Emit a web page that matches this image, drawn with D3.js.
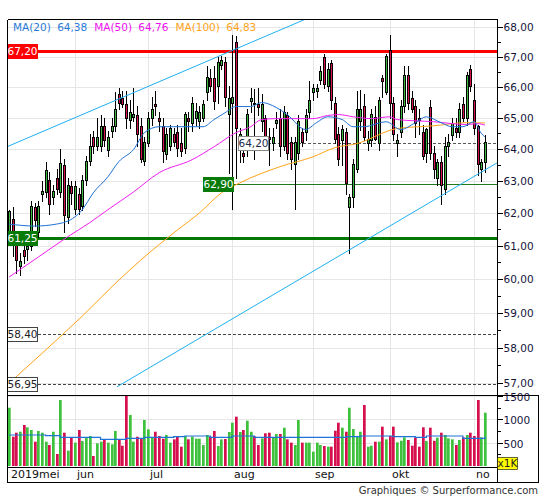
<!DOCTYPE html>
<html><head><meta charset="utf-8">
<script src="https://cdn.jsdelivr.net/npm/d3@7"></script>
<style>body{margin:0;background:#fff;} svg{display:block;font-family:"DejaVu Sans",Verdana,sans-serif;}</style>
</head><body><svg id="c" width="545" height="500"></svg>
<script>
// ---------- DATA ----------
const startDate = "2019-05-08";
const opens = [61.34,61.83,61.03,60.38,60.88,60.90,60.98,62.18,61.43,62.58,
62.64,63.03,62.48,63.08,62.64,63.48,61.88,62.83,62.13,62.58,
62.23,63.03,63.63,64.38,64.08,64.08,64.73,63.98,64.58,64.73,
65.78,65.63,65.43,64.93,65.03,65.08,64.73,63.63,64.18,64.98,
65.43,64.98,64.73,63.83,64.08,64.48,64.53,64.18,64.03,64.98,
64.83,64.98,64.88,64.98,65.83,66.28,66.28,66.03,66.73,66.83,
65.13,65.48,67.48,64.18,63.88,64.28,65.53,65.46,65.44,64.88,
64.98,64.38,64.18,64.83,64.98,64.08,65.08,64.23,63.53,63.88,
64.53,64.53,65.18,65.83,65.88,66.23,66.98,66.03,66.78,65.48,
64.48,64.28,64.53,62.18,62.48,63.38,64.88,65.38,64.18,64.28,
65.03,64.18,66.28,65.83,67.23,65.48,64.18,64.53,65.38,66.38,
65.63,65.38,64.98,64.53,63.88,65.33,63.88,63.08,63.58,62.73,
64.08,64.43,64.68,64.53,65.43,64.98,66.58,65.58,64.73,63.38,
63.58];
const highs = [62.08,62.18,61.30,60.78,61.08,61.38,62.38,62.30,62.38,62.98,
63.60,63.28,62.88,63.38,64.00,63.68,63.08,62.98,62.98,62.78,
63.18,63.78,64.48,64.58,64.98,65.08,64.98,64.58,64.98,65.83,
65.98,65.88,65.88,65.58,65.98,65.38,64.98,64.38,65.18,65.68,
65.88,65.18,64.98,64.68,64.78,64.68,64.78,64.68,65.18,65.18,
65.68,65.48,65.38,65.58,66.68,66.58,66.68,66.98,67.03,67.00,
66.03,67.73,67.68,64.68,64.08,65.28,65.98,65.93,65.98,65.78,
65.08,64.68,64.68,65.18,65.28,65.38,65.18,64.38,64.38,65.08,
64.68,65.28,66.18,66.08,66.08,66.68,67.07,66.78,66.88,65.68,
64.70,64.78,64.68,62.58,63.68,65.88,65.90,65.78,64.58,65.28,
65.38,65.68,66.38,67.08,67.73,65.68,64.48,65.58,66.68,66.68,
65.88,65.58,65.28,64.78,64.68,65.58,64.08,63.68,63.78,64.38,
64.48,64.98,64.98,65.48,65.68,66.48,66.73,66.08,64.78,63.68,
64.43];
const lows = [61.08,60.68,60.18,60.13,60.48,60.58,60.88,61.60,61.28,62.38,
62.48,61.98,62.28,62.58,62.48,61.43,61.68,62.28,61.98,61.98,
62.08,62.88,63.48,63.88,63.98,63.93,64.08,63.78,64.38,64.58,
65.28,65.33,64.68,64.68,64.88,64.08,63.58,63.48,64.08,64.78,
65.08,64.58,63.58,63.68,63.98,64.08,63.78,63.78,63.88,64.58,
64.58,64.78,64.68,64.88,65.58,65.88,65.28,65.48,66.58,65.38,
63.23,62.13,63.08,63.58,63.58,63.78,65.18,63.68,65.08,64.58,
63.98,63.48,63.98,64.68,63.78,63.98,63.68,63.38,62.13,63.68,
64.08,64.28,64.98,65.58,65.68,66.08,65.98,65.88,65.28,64.18,
63.50,63.48,62.58,60.78,62.18,63.28,64.60,64.28,63.98,64.08,
64.28,63.98,65.68,65.78,64.98,64.28,63.78,64.38,65.18,65.28,
65.18,64.38,64.48,63.68,63.58,63.68,63.08,62.88,62.28,62.58,
63.78,64.28,64.38,64.38,64.88,64.78,65.88,64.48,63.18,62.98,
63.28];
const closes = [62.06,61.03,60.58,60.53,60.68,61.00,62.23,61.78,62.23,62.68,
63.33,62.28,62.68,62.73,63.55,61.93,62.88,62.63,62.83,62.13,
63.03,63.63,64.08,64.08,64.38,64.73,64.28,64.38,64.73,65.28,
65.48,65.43,64.98,65.18,65.13,64.48,63.68,64.23,64.98,65.28,
65.38,64.88,63.93,64.48,64.68,64.23,64.03,63.93,65.13,64.88,
65.48,65.23,65.18,65.43,66.33,66.03,65.53,66.83,66.88,65.68,
65.63,65.68,64.68,64.48,63.78,65.13,65.63,65.43,65.35,65.44,
64.23,64.33,64.38,64.93,64.08,65.18,63.88,63.68,64.23,64.88,
64.23,65.08,65.58,65.98,65.98,66.53,66.08,66.58,65.58,64.33,
63.68,64.63,62.93,62.48,63.53,65.28,65.28,64.38,64.33,65.13,
64.33,65.58,66.18,67.03,65.48,64.48,64.28,65.38,66.38,65.48,
65.28,64.83,64.93,63.78,64.63,63.88,63.38,63.58,62.88,64.08,
64.23,64.83,64.53,65.28,64.98,66.38,66.03,64.68,63.53,63.58,
64.23];
const volumes = [1248,627,713,734,878,828,771,521,750,713,
521,450,734,257,1413,713,328,614,500,771,
535,614,642,214,486,521,571,500,464,750,
571,435,1505,1092,521,627,592,985,785,614,
734,642,585,664,500,571,627,414,642,571,
627,585,585,450,664,627,750,428,571,578,
728,927,1056,728,771,970,734,642,450,592,
700,713,614,685,685,820,571,500,450,985,
500,500,500,307,500,450,428,414,414,756,
927,820,734,1248,792,627,734,1306,414,435,
521,521,842,571,642,842,507,542,614,557,
435,607,414,828,535,820,540,607,713,664,
592,571,450,557,614,664,713,642,1413,614,
1141];
// moving averages: [day index, value]
const ma20 = [[0,61.66],[7,61.60],[13,61.66],[18,61.88],[20,62.10],[23,62.62],[27,63.12],[30,63.60],[34,63.98],[37,64.52],[41,64.71],[45,64.71],[53,64.71],[56,64.94],[59,65.16],[62,65.36],[66,65.36],[69,65.49],[73,65.33],[76,65.10],[81,64.62],[84,64.84],[87,65.03],[91,64.94],[94,64.71],[97,64.71],[103,64.87],[107,64.62],[111,64.84],[114,65.03],[118,64.84],[121,64.71],[124,64.71],[127,64.87],[129,64.50],[130,64.38]];
const ma50 = [[0,60.06],[8,60.66],[16,61.27],[22,61.70],[27,62.10],[34,62.65],[41,63.25],[50,63.66],[56,64.07],[62,64.52],[66,64.71],[69,64.94],[73,64.97],[83,64.97],[87,65.07],[90,65.10],[94,65.03],[99,64.97],[104,65.03],[106,64.94],[116,64.87],[125,64.78],[128,64.81],[130,64.76]];
const ma100 = [[0,56.98],[9,57.83],[20,58.91],[30,59.97],[36,60.57],[46,61.48],[52,62.00],[58,62.62],[63,62.93],[74,63.44],[83,63.75],[89,64.04],[95,64.17],[106,64.65],[116,64.74],[125,64.84],[130,64.83]];
const volMA = [[0,664],[7,664],[10,650],[14,614],[22,614],[25,571],[31,571],[32,592],[37,614],[45,627],[48,642],[55,614],[61,642],[67,614],[73,614],[81,614],[89,614],[92,627],[96,642],[105,627],[111,614],[114,642],[124,592],[130,627]];
const legendNames = ["MA(20)","MA(50)","MA(100)"];
const legendValues = ["64,38","64,76","64,83"];
const priceTicks = [57,58,59,60,61,62,63,64,65,66,67,68];
const volTicks = [500,1000,1500];
const monthLabels = ["2019mei","jun","jul","aug","sep","okt","no"];
const monthNumbers = [4,5,6,7,8,9,10];
// support / resistance levels
const levelValues = [67.20, 61.25, 62.90, 64.20, 58.40, 56.95];
const levelTexts = ["67,20","61,25","62,90","64,20","58,40","56,95"];
const levelLabelAt = [null, null, 53, 62.5, null, null];
// trend lines: [day index, price]
const trendUpper = [[-0.55,64.07],[81.1,68.26]];
const trendLower = [[29.5,56.88],[133.3,63.56]];
const footer = "Graphiques © Surperformance.com";

// ---------- LAYOUT ----------
const L=7,R=497,T=19,PB=395,VB=467,DB=482,FR=538;
const GREEN="#3cb83c", RED="#d4124c";
const svg=d3.select("#c");

const dates=[]; {let d=new Date(startDate+"T00:00:00"); while(dates.length<opens.length){ if(d.getDay()!==0&&d.getDay()!==6) dates.push(new Date(d)); d.setDate(d.getDate()+1);} }
const monthIdx = monthNumbers.map(m=>dates.findIndex(dt=>dt.getMonth()===m));

const x=d3.scaleLinear().domain([-0.55,133.3]).range([L,R]);
const y=d3.scaleLog().domain([56.65,68.26]).range([PB,T]);
const yv=d3.scaleLinear().domain([0,1520]).range([466,PB]);
const fmt=v=>d3.format(".2f")(v).replace(".",",");

svg.append("rect").attr("width",545).attr("height",500).attr("fill","#fff");
svg.append("defs").append("clipPath").attr("id","cp").append("rect").attr("x",L).attr("y",T).attr("width",R-L).attr("height",PB-T);

// grid
const grid=svg.append("g").attr("stroke","#e6e6e6").attr("stroke-width",1).attr("shape-rendering","crispEdges");
priceTicks.forEach(p=>grid.append("line").attr("x1",L).attr("x2",R).attr("y1",Math.round(y(p))+0.5).attr("y2",Math.round(y(p))+0.5));
volTicks.forEach(v=>grid.append("line").attr("x1",L).attr("x2",R).attr("y1",Math.round(yv(v))+0.5).attr("y2",Math.round(yv(v))+0.5));
monthIdx.slice(1).forEach(i=>{const gx=Math.round(x(i))+0.5; grid.append("line").attr("x1",gx).attr("x2",gx).attr("y1",T).attr("y2",VB);});

const plot=svg.append("g").attr("clip-path","url(#cp)");

// level lines
const lv = plot.append("g").attr("shape-rendering","crispEdges");
function ly(v){return Math.round(y(v))+0.5;}
lv.append("line").attr("x1",L).attr("x2",R).attr("y1",ly(levelValues[0])).attr("y2",ly(levelValues[0])).attr("stroke","#ff0000").attr("stroke-width",3);
lv.append("line").attr("x1",L).attr("x2",R).attr("y1",ly(levelValues[1])).attr("y2",ly(levelValues[1])).attr("stroke","#007800").attr("stroke-width",3);
lv.append("line").attr("x1",x(levelLabelAt[2])+30).attr("x2",R).attr("y1",ly(levelValues[2])).attr("y2",ly(levelValues[2])).attr("stroke","#1f7a1f").attr("stroke-width",1);
lv.append("line").attr("x1",x(levelLabelAt[3])+30).attr("x2",R).attr("y1",ly(levelValues[3])).attr("y2",ly(levelValues[3])).attr("stroke","#555").attr("stroke-width",1).attr("stroke-dasharray","3,2");
[4,5].forEach(k=>lv.append("line").attr("x1",L+31).attr("x2",R).attr("y1",ly(levelValues[k])).attr("y2",ly(levelValues[k])).attr("stroke","#444").attr("stroke-width",1).attr("stroke-dasharray","3,2"));

// candles
const cg=plot.append("g").attr("shape-rendering","crispEdges");
opens.forEach((o,i)=>{
  const c=Math.round(x(i)); const cl=closes[i];
  cg.append("line").attr("x1",c+0.5).attr("x2",c+0.5).attr("y1",Math.round(y(highs[i]))).attr("y2",Math.round(y(lows[i]))+1).attr("stroke","#000");
  const t=Math.round(y(Math.max(o,cl))), b=Math.round(y(Math.min(o,cl)));
  cg.append("rect").attr("x",c-0.5).attr("y",t+0.5).attr("width",2).attr("height",Math.max(1,b-t))
    .attr("fill",cl>=o?GREEN:RED).attr("stroke","#000").attr("stroke-width",1);
});

// MAs
const maLine=d3.line().x(d=>x(d[0])).y(d=>y(d[1])).curve(d3.curveMonotoneX);
[[ma100,"#ffa31a"],[ma50,"#f01ef0"],[ma20,"#1f72d6"]].forEach(([d,c])=>plot.append("path").attr("d",maLine(d)).attr("fill","none").attr("stroke",c).attr("stroke-width",1));

// trend lines
const tl=d3.line().x(d=>x(d[0])).y(d=>y(d[1]));
[trendUpper,trendLower].forEach(d=>plot.append("path").attr("d",tl(d)).attr("fill","none").attr("stroke","#1eb0f0").attr("stroke-width",1));

// volume
const vg=svg.append("g");
volumes.forEach((v,i)=>{const c=Math.round(x(i)); vg.append("rect").attr("x",c-1).attr("y",yv(v)).attr("width",2.7).attr("height",466-yv(v)).attr("fill",closes[i]>=opens[i]?"#3ec23e":"#d6104e");});
vg.append("path").attr("d",d3.line().x(d=>x(d[0])).y(d=>yv(d[1])).curve(d3.curveStepAfter)(volMA)).attr("fill","none").attr("stroke","#1f72d6").attr("stroke-width",1.2);

// level labels
function box(xl,yc,txt,fill,stroke,tc){
  const g=svg.append("g");
  g.append("rect").attr("x",xl+0.5).attr("y",Math.round(yc)-7+0.5).attr("width",30).attr("height",14).attr("fill",fill).attr("stroke",stroke).attr("shape-rendering","crispEdges");
  g.append("text").attr("x",xl+15.5).attr("y",Math.round(yc)+4).attr("text-anchor","middle").attr("font-size",10.5).attr("fill",tc).text(txt);
}
box(L,y(levelValues[0]),levelTexts[0],"#ff0000","#ff0000","#fff");
box(L,y(levelValues[1]),levelTexts[1],"#087a08","#087a08","#fff");
box(Math.round(x(levelLabelAt[2])),y(levelValues[2]),levelTexts[2],"#087a08","#087a08","#fff");
box(Math.round(x(levelLabelAt[3])),y(levelValues[3]),levelTexts[3],"#fff","#888","#1b2a4a");
box(L,y(levelValues[4]),levelTexts[4],"#fff","#444","#222");
box(L,y(levelValues[5]),levelTexts[5],"#fff","#444","#222");

// legend
const lg=svg.append("text").attr("x",13).attr("y",31).attr("font-size",10.5);
const lc=["#2a7ad8","#ee10ee","#ffa31a"];
legendNames.forEach((n,k)=>{lg.append("tspan").attr("fill",lc[k]).attr("dx",k?7:0).text(n+" "); lg.append("tspan").attr("fill",lc[k]).attr("dx",3).text(legendValues[k]);});

// frame
const fr=svg.append("g").attr("stroke","#000").attr("stroke-width",1).attr("shape-rendering","crispEdges");
[[L,T,L,DB],[L,T,R,T],[R,T,R,DB],[L,PB,FR,PB],[L,VB,R,VB],[L,DB,FR,DB],[FR,PB,FR,DB]].forEach(a=>fr.append("line").attr("x1",a[0]+0.5).attr("y1",a[1]+0.5).attr("x2",a[2]+0.5).attr("y2",a[3]+0.5));

// right axis price
const ax=svg.append("g").attr("transform",`translate(${R+0.5},0)`);
const minor=d3.range(56.5,68.6,0.5).filter(v=>y(v)>=T&&y(v)<=PB);
minor.forEach(v=>ax.append("line").attr("x1",0).attr("x2",3).attr("y1",Math.round(y(v))+0.5).attr("y2",Math.round(y(v))+0.5).attr("stroke","#000").attr("shape-rendering","crispEdges"));
priceTicks.forEach(p=>{const yy=Math.round(y(p))+0.5; ax.append("line").attr("x1",0).attr("x2",5).attr("y1",yy).attr("y2",yy).attr("stroke","#000").attr("shape-rendering","crispEdges");
  ax.append("text").attr("x",6).attr("y",yy+3).attr("font-size",10.5).attr("fill","#14143a").text(fmt(p));});
volTicks.forEach(v=>{const yy=Math.round(yv(v))+0.5; ax.append("line").attr("x1",0).attr("x2",5).attr("y1",yy).attr("y2",yy).attr("stroke","#000").attr("shape-rendering","crispEdges");
  ax.append("text").attr("x",6).attr("y",yy+4).attr("font-size",10.5).attr("fill","#14143a").text(v);});
[250,750,1250].forEach(v=>{const yy=Math.round(yv(v))+0.5; ax.append("line").attr("x1",0).attr("x2",3).attr("y1",yy).attr("y2",yy).attr("stroke","#000").attr("shape-rendering","crispEdges");});
ax.append("rect").attr("x",0).attr("y",457.5).attr("width",20).attr("height",12).attr("fill","#ffff00").attr("stroke","#000").attr("stroke-width",0.6);
ax.append("text").attr("x",10).attr("y",467).attr("text-anchor","middle").attr("font-size",10.5).attr("fill","#222").text("x1K");

// month labels
monthIdx.forEach((i,k)=>svg.append("text").attr("x",k===0?11:Math.round(x(i))+2).attr("y",478).attr("font-size",11).attr("fill","#111").text(monthLabels[k]));

// footer
svg.append("text").attr("x",538).attr("y",494).attr("text-anchor","end").attr("font-size",10).attr("fill","#333").text(footer);
</script></body></html>
